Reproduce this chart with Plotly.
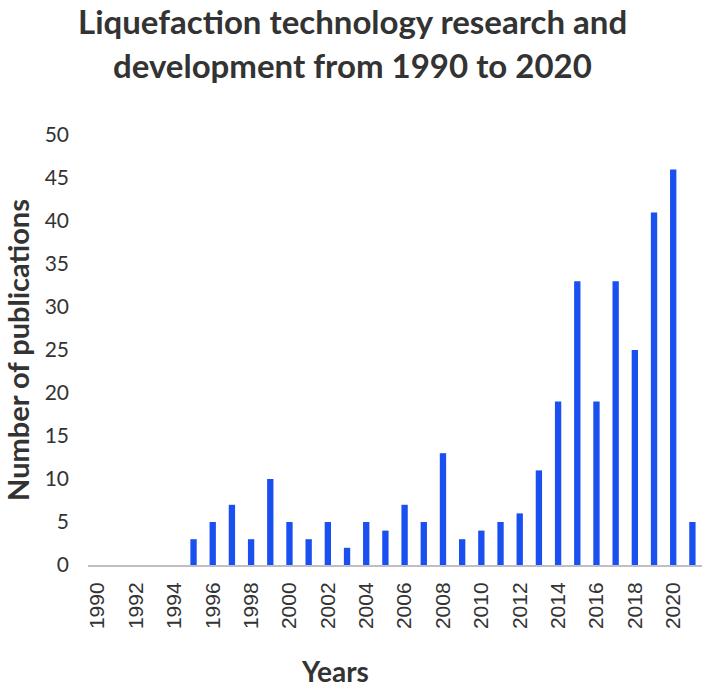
import plotly.graph_objects as go

years = list(range(1990, 2022))
publications = [0, 0, 0, 0, 0, 3, 5, 7, 3, 10, 5, 3, 5, 2, 5, 4, 7, 5, 13, 3,
                4, 5, 6, 11, 19, 33, 19, 33, 25, 41, 46, 5]
tick_years = list(range(1990, 2021, 2))
title_lines = ["Liquefaction technology research and", "development from 1990 to 2020"]

L, R, T, B = 88, 2, 135, 127
W, H = 704, 692
pw = W - L - R
title_centres = [21, 65]

fig = go.Figure(go.Bar(x=years, y=publications, marker_color="#1a4ff0",
                       marker_line_width=0, width=0.33))

for line, yc in zip(title_lines, title_centres):
    fig.add_annotation(text="<b>" + line + "</b>", xref="paper", yref="paper",
                       x=0.5, y=1, xanchor="center", yanchor="middle",
                       xshift=352 - (L + pw / 2),
                       yshift=T - yc, showarrow=False,
                       font=dict(family="Lato", size=33, color="#333333"))

fig.add_annotation(text="<b>Years</b>", xref="paper", yref="paper",
                   x=(335 - L) / pw, y=0, xanchor="center", yanchor="middle",
                   yshift=-(671 - (H - B)), showarrow=False,
                   font=dict(family="Lato", size=28, color="#333333"))

fig.update_layout(
    width=W, height=H,
    paper_bgcolor="white", plot_bgcolor="white",
    margin=dict(l=L, r=R, t=T, b=B),
    showlegend=False,
)
fig.update_xaxes(range=[1989.5, 2021.5], tickmode="array", tickvals=tick_years,
                 ticktext=[str(y) for y in tick_years], tickangle=-90,
                 tickfont=dict(family="Liberation Sans", size=21, color="#333333"),
                 ticklabelstandoff=7,
                 showline=True, linecolor="#bfbfbf", linewidth=2, showgrid=False,
                 ticks="", zeroline=False)
fig.update_yaxes(range=[0, 50], dtick=5, showgrid=False, zeroline=False, showline=False,
                 tickfont=dict(family="Lato", size=21, color="#333333"), ticks="",
                 ticklabelstandoff=18,
                 title=dict(text="<b>Number of publications</b>", font=dict(family="Lato", size=29, color="#333333"), standoff=10))

fig.write_html("out.html", config={"displayModeBar": False},
               post_script="document.body.style.margin='0px';")
